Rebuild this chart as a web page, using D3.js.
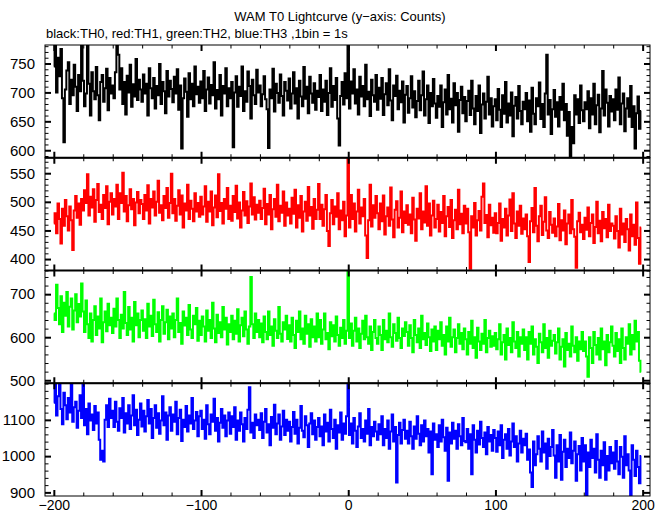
<!DOCTYPE html>
<html>
<head>
<meta charset="utf-8">
<script src="https://cdn.jsdelivr.net/npm/d3@7"></script>
<style>
  html, body { margin: 0; padding: 0; background: #fff; }
  svg { display: block; }
  text { font-family: "Liberation Sans", Arial, Helvetica, sans-serif; fill: #000; }
</style>
</head>
<body>
<script>
// ---------------- data ----------------
const titleText = "WAM T0 Lightcurve (y\u2212axis: Counts)";
const subtitleText = "black:TH0, red:TH1, green:TH2, blue:TH3 ,1bin = 1s";
const startTime = -200;   // time of first bin (s)
const binSize = 1;        // 1 bin = 1 s
const xTickLabels = [-200, -100, 0, 100, 200];

const th0 = [
745,782,700,760,728,775,690,614,705,738,752,680,722,695,748,710,668,730,702,782,
720,676,698,782,715,660,735,702,688,744,695,652,718,730,684,707,741,669,725,698,
712,690,735,782,765,705,742,680,718,662,729,700,748,675,714,693,758,687,722,705,
684,731,698,715,660,742,707,690,725,672,711,695,749,680,718,702,664,737,693,720,
706,683,727,698,740,670,712,603,690,724,701,658,733,688,715,676,745,697,710,682,
719,690,737,668,705,726,681,713,695,752,672,704,688,730,660,711,698,742,676,707,
690,718,605,700,728,675,710,694,745,668,702,684,736,711,655,722,695,680,739,700,
712,676,697,728,688,671,604,705,690,741,667,715,699,682,731,694,660,718,703,686,
724,672,698,735,681,707,655,720,693,676,744,689,710,664,727,698,682,716,670,703,
692,730,668,705,684,720,661,699,742,675,711,687,725,655,608,694,718,679,733,690,
785,672,719,698,740,681,705,662,727,693,711,676,748,688,701,659,722,695,684,730,
670,708,689,725,661,697,716,678,740,686,652,712,694,729,671,703,683,719,648,696,
711,665,690,728,674,702,657,685,720,669,695,736,660,688,712,647,699,676,723,681,
656,694,675,712,640,683,705,662,730,671,689,648,716,678,699,632,687,710,664,692,
650,685,703,661,720,672,645,694,668,712,630,679,698,655,684,727,662,690,641,676,
688,652,706,670,640,695,663,718,648,681,660,700,624,677,692,655,711,668,645,684,
671,699,650,686,632,708,663,645,690,676,717,654,680,640,698,765,662,687,628,671,
704,658,683,641,692,670,715,652,680,625,666,590,640,612,695,662,688,647,712,669,
650,683,671,702,638,690,662,715,645,678,696,631,672,737,660,705,682,641,694,667,
688,652,705,670,726,645,681,698,633,672,690,658,711,640,676,603,664,693,637,668
];
const th1 = [
462,480,445,497,470,427,488,458,503,475,450,492,468,416,485,510,472,497,460,505,
485,520,498,548,476,509,490,522,465,503,531,482,495,470,512,489,527,461,500,515,
478,505,492,530,470,515,498,551,483,510,466,494,522,487,505,459,499,517,480,503,
496,470,512,485,529,462,505,490,518,476,500,537,481,494,468,510,489,524,472,498,
549,480,505,467,493,520,478,511,455,497,485,530,470,502,488,466,515,483,498,474,
509,478,492,527,465,500,483,518,459,490,511,473,548,484,498,462,505,488,524,470,
493,467,510,482,528,471,499,455,485,517,476,501,463,492,532,478,508,469,495,481,
502,470,489,523,461,496,478,512,452,487,505,474,530,466,493,481,518,458,499,476,
488,462,507,479,521,455,494,472,510,448,483,500,467,526,476,491,453,505,470,486,
531,470,495,458,487,512,449,423,480,503,461,492,474,515,452,485,468,500,440,476,
585,455,512,470,497,448,483,521,462,490,475,505,441,402,468,530,457,494,472,510,
480,452,497,466,511,443,475,490,458,525,469,438,486,501,455,472,518,447,483,463,
494,460,478,445,507,469,432,488,471,515,452,483,464,527,458,497,441,476,502,455,
470,495,448,482,463,510,440,475,491,456,503,437,468,486,452,521,461,479,445,493,
462,488,447,383,475,455,498,441,468,484,450,509,532,463,477,438,495,459,472,446,
480,445,463,497,432,470,455,488,441,476,504,449,515,462,437,483,458,493,444,471,
452,478,440,395,466,489,447,524,458,431,475,493,442,465,508,450,437,482,460,446,
471,440,457,496,433,468,450,485,426,462,478,445,503,452,439,385,466,481,447,460,
435,472,451,490,440,463,478,428,456,500,445,467,431,482,454,470,438,495,449,462,
458,436,475,449,420,488,443,462,430,470,452,415,478,440,460,425,499,437,392,455
];
const th2 = [
655,640,722,668,630,695,612,680,650,705,625,671,690,618,662,700,635,677,648,725,
660,612,685,630,598,655,590,640,672,605,648,620,690,588,635,660,614,678,628,645,
610,666,625,690,640,598,652,620,705,633,605,670,618,645,590,682,628,655,600,640,
662,615,642,598,678,625,650,603,687,630,612,658,590,640,672,608,635,664,595,648,
620,655,600,640,690,612,633,585,660,627,645,605,675,618,598,650,630,668,592,638,
605,648,625,590,662,615,640,598,680,620,588,652,610,635,600,670,618,645,583,630,
612,650,595,638,608,665,590,628,645,602,660,618,585,625,740,630,598,655,612,640,
600,632,588,648,612,595,660,605,625,580,642,615,598,670,608,590,635,618,650,596,
628,590,645,605,575,638,612,660,595,620,585,650,608,630,578,642,600,625,590,655,
600,640,585,618,655,595,610,572,635,602,628,590,648,605,580,622,598,640,585,615,
758,598,632,580,615,645,590,620,575,608,638,595,650,600,585,625,570,612,640,598,
585,625,605,570,640,595,615,588,655,600,578,630,610,592,645,598,575,620,603,635,
612,580,628,598,565,640,605,588,620,575,650,595,610,582,632,600,568,618,590,625,
570,615,595,635,580,605,560,625,590,645,578,600,618,565,598,630,585,610,572,620,
595,560,612,585,638,575,600,552,622,590,570,608,585,640,565,598,615,578,602,580,
610,572,595,630,560,588,605,548,620,582,598,565,635,590,575,612,555,600,585,618,
570,600,548,612,585,625,560,595,578,540,608,588,565,630,575,598,552,615,580,592,
605,562,588,620,548,578,595,532,610,570,585,555,625,580,565,600,545,590,572,612,
568,590,555,508,600,575,540,612,582,560,598,548,620,572,590,535,605,565,588,625,
580,555,610,568,595,540,620,575,548,600,585,630,560,605,572,638,590,612,545,520
];
const th3 = [
1147,1200,1112,1165,1198,1130,1088,1175,1140,1102,1160,1120,1198,1095,1135,1150,1078,1125,1168,1105,
1200,1085,1130,1060,1145,1098,1115,1072,1138,1090,1120,1045,990,1015,985,1100,1140,1080,1158,1105,
1125,1080,1150,1095,1070,1132,1105,1160,1065,1118,1090,1140,1075,1112,1168,1085,1128,1058,1100,1145,
1082,1125,1068,1110,1155,1090,1130,1050,1105,1140,1078,1118,1062,1098,1165,1085,1120,1045,1112,1135,
1070,1115,1095,1150,1060,1105,1128,1042,1100,1080,1138,1068,1112,1090,1160,1075,1098,1122,1055,1110,
1125,1075,1100,1048,1140,1088,1060,1115,1095,1158,1070,1105,1040,1092,1130,1078,1112,1055,1098,1120,
1062,1110,1080,1135,1045,1098,1070,1120,1088,1040,1105,1075,1128,1190,1065,1092,1050,1115,1085,1100,
1072,1118,1050,1095,1130,1065,1088,1030,1108,1078,1142,1060,1090,1115,1045,1082,1125,1058,1100,1070,
1095,1040,1080,1122,1062,1100,1035,1078,1138,1070,1052,1110,1085,1025,1090,1118,1060,1098,1045,1080,
1105,1055,1082,1030,1115,1068,1092,1040,1128,1075,1050,1100,1020,1085,1065,1120,1045,1090,1062,1110,
1205,1058,1090,1035,1105,1070,1025,1082,1118,1050,1075,1040,1098,1062,1130,1030,1080,1055,1095,1068,
1045,1088,1060,1110,1030,1075,1050,1098,1020,1068,1115,1040,1080,927,1058,1092,1035,1072,1100,1048,
1070,1035,1095,1055,1020,1082,1048,1110,1062,1030,1085,1040,1098,1055,1075,1010,1068,950,1090,1045,
1060,1025,1085,1040,1100,1052,1015,1078,932,1065,1035,1092,1048,1070,1020,1088,1055,1030,1105,1042,
1038,1075,1020,1060,950,1085,1045,1010,1070,1032,1095,1050,1025,1065,1005,1080,1040,1058,1015,1072,
1050,1012,1068,1030,1085,995,1045,1060,1020,1075,1002,1040,1090,1025,1055,985,1035,1070,1010,1048,
1030,1062,990,1018,955,915,1040,975,1005,1055,1020,985,1068,1010,1035,965,1048,1000,1025,1072,
1002,940,1030,985,1058,935,1012,1045,970,1020,995,1065,980,1015,1040,932,1005,1028,960,1050,
985,1030,890,1010,970,1045,995,1020,955,1060,990,940,1015,975,1038,935,1000,960,1025,980,
1010,965,1042,985,950,1025,998,940,1055,975,1005,960,893,1030,990,945,1015,970,925,1000
];

const seriesNames = ["TH0", "TH1", "TH2", "TH3"];
const seriesData = [th0, th1, th2, th3];
const seriesColors = ["#000000", "#ff0000", "#00ff00", "#0000ff"];
const yDomains = [[587, 782], [380, 577], [493, 755], [890, 1201]];
const yTickLabels = [[600, 650, 700, 750], [400, 450, 500, 550], [500, 600, 700], [900, 1000, 1100]];
const yMinorSteps = [10, 10, 20, 20];

// ---------------- layout ----------------
const W = 669, H = 515;
const plotLeft = 45, plotRight = 650, plotTop = 45, plotBottom = 496;
const nP = seriesData.length;
const panelH = (plotBottom - plotTop) / nP;
const majorLen = 6, minorLen = 3.5;

const svg = d3.select("body").append("svg").attr("width", W).attr("height", H);

const x = d3.scaleLinear().domain([-206, 205]).range([plotLeft, plotRight]);

svg.append("text").attr("x", 340).attr("y", 21).attr("text-anchor", "middle")
  .style("font-size", "13px").text(titleText);
svg.append("text").attr("x", 46).attr("y", 38).attr("text-anchor", "start")
  .style("font-size", "13px").text(subtitleText);

const xMinor = d3.range(-200, 201, 20);

seriesData.forEach((data, i) => {
  const y0 = plotTop + i * panelH, y1 = y0 + panelH;
  const dom = yDomains[i];
  const y = d3.scaleLinear().domain(dom).range([y1, y0]);
  const g = svg.append("g");

  const clipId = "clip" + i;
  svg.append("clipPath").attr("id", clipId).append("rect")
    .attr("x", plotLeft).attr("y", y0).attr("width", plotRight - plotLeft).attr("height", panelH);

  const line = d3.line()
    .x((d, j) => x(startTime + j * binSize))
    .y(d => y(d))
    .curve(d3.curveStep);

  g.append("path").datum(data)
    .attr("clip-path", "url(#" + clipId + ")")
    .attr("fill", "none")
    .attr("stroke", seriesColors[i])
    .attr("stroke-width", 2)
    .attr("stroke-linejoin", "miter")
    .attr("d", line);

  // y axes (ticks inward, left + right)
  const step = yMinorSteps[i];
  const minorVals = d3.range(Math.ceil(dom[0] / step) * step, dom[1] + 0.001, step)
    .filter(v => !yTickLabels[i].includes(v));

  const yl = g.append("g").attr("transform", `translate(${plotLeft},0)`);
  yl.call(d3.axisLeft(y).tickValues(minorVals).tickSize(-minorLen).tickFormat(""));
  yl.select(".domain").remove();
  const ylM = g.append("g").attr("transform", `translate(${plotLeft},0)`);
  ylM.call(d3.axisLeft(y).tickValues(yTickLabels[i]).tickSize(-majorLen).tickPadding(10).tickFormat(d3.format("d")));
  ylM.select(".domain").remove();
  ylM.selectAll("line").attr("stroke-width", 2);
  ylM.selectAll("text").style("font-size", "15px").style("font-family", "'Liberation Sans', Arial, sans-serif").attr("fill", "#000");

  const yr = g.append("g").attr("transform", `translate(${plotRight},0)`);
  yr.call(d3.axisRight(y).tickValues(minorVals).tickSize(-minorLen).tickFormat(""));
  yr.select(".domain").remove();
  const yrM = g.append("g").attr("transform", `translate(${plotRight},0)`);
  yrM.call(d3.axisRight(y).tickValues(yTickLabels[i]).tickSize(-majorLen).tickFormat(""));
  yrM.select(".domain").remove();
  yrM.selectAll("line").attr("stroke-width", 2);

  // x ticks top + bottom of panel (inward)
  const xMinorOnly = xMinor.filter(v => !xTickLabels.includes(v));
  [[y0, d3.axisTop], [y1, d3.axisBottom]].forEach(([yy, axisFn]) => {
    const a = g.append("g").attr("transform", `translate(0,${yy})`);
    a.call(axisFn(x).tickValues(xMinorOnly).tickSize(-minorLen).tickFormat(""));
    a.select(".domain").remove();
    const b = g.append("g").attr("transform", `translate(0,${yy})`);
    b.call(axisFn(x).tickValues(xTickLabels).tickSize(-majorLen).tickFormat(""));
    b.select(".domain").remove();
    b.selectAll("line").attr("stroke-width", 2);
  });

  // frame
  g.append("rect").attr("x", plotLeft).attr("y", y0).attr("width", plotRight - plotLeft).attr("height", panelH)
    .attr("fill", "none").attr("stroke", "#000").attr("stroke-width", 1);
  if (i > 0) {
    g.append("line").attr("x1", plotLeft).attr("x2", plotRight).attr("y1", y0).attr("y2", y0)
      .attr("stroke", "#000").attr("stroke-width", 2);
  }

  if (i === nP - 1) {
    const xa = svg.append("g").attr("transform", `translate(0,${y1})`);
    xa.call(d3.axisBottom(x).tickValues(xTickLabels).tickSize(0).tickPadding(4)
      .tickFormat(d => d < 0 ? "\u2212" + Math.abs(d) : String(d)));
    xa.select(".domain").remove();
    xa.selectAll("text").style("font-size", "14px").style("font-family", "'Liberation Sans', Arial, sans-serif").attr("fill", "#000");
  }
});
</script>
</body>
</html>
